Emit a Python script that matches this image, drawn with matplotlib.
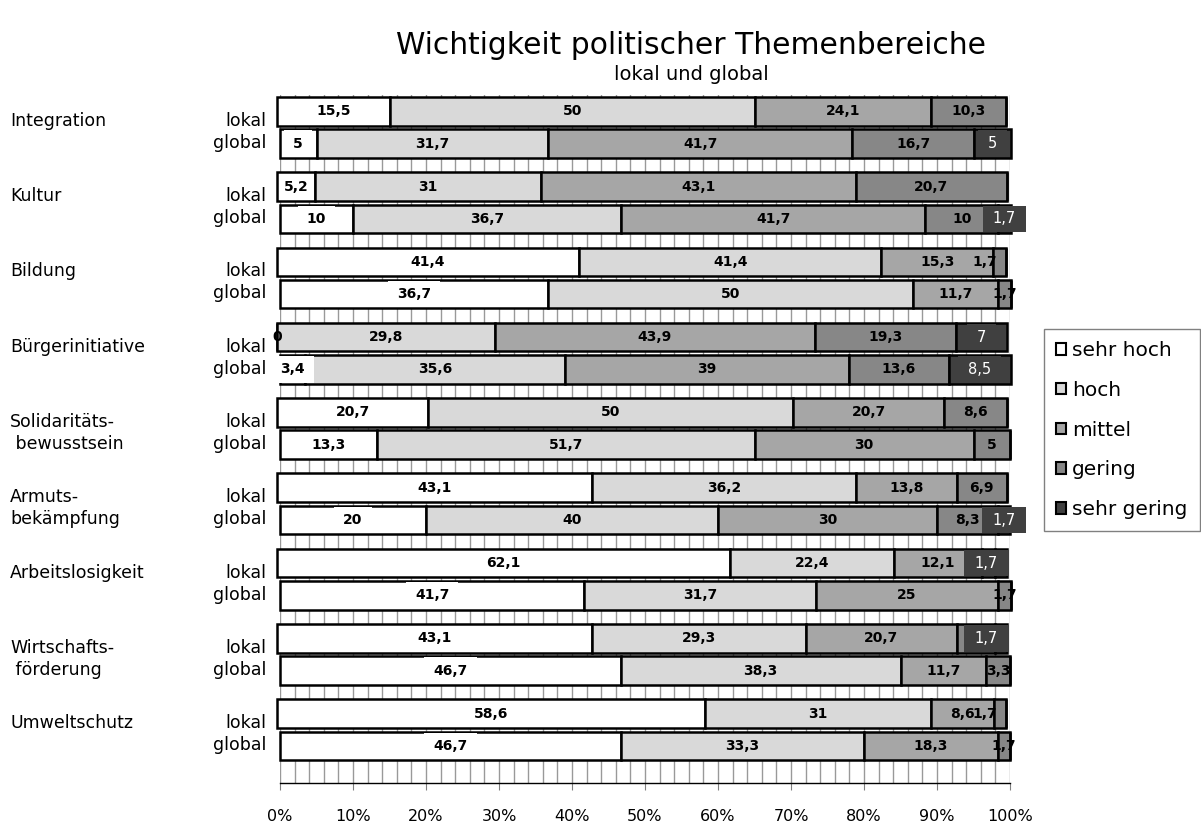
import numpy as np
import matplotlib
matplotlib.use("Agg")
import matplotlib.pyplot as plt
from matplotlib.patches import Patch
from matplotlib.path import Path
from matplotlib import transforms

plt.rcParams['font.family'] = ['DejaVu Sans']

# ---------------- data ----------------
categories = ["Integration", "Kultur", "Bildung", "Bürgerinitiative",
              "Solidaritäts-\n bewusstsein", "Armuts-\nbekämpfung",
              "Arbeitslosigkeit", "Wirtschafts-\n förderung", "Umweltschutz"]
levels = ["sehr hoch", "hoch", "mittel", "gering", "sehr gering"]
colors = ["#ffffff", "#d9d9d9", "#a6a6a6", "#878787", "#404040"]

sehr_hoch_lokal = [15.5, 5.2, 41.4, 0, 20.7, 43.1, 62.1, 43.1, 58.6]
hoch_lokal = [50, 31, 41.4, 29.8, 50, 36.2, 22.4, 29.3, 31]
mittel_lokal = [24.1, 43.1, 15.3, 43.9, 20.7, 13.8, 12.1, 20.7, 8.6]
gering_lokal = [10.3, 20.7, 1.7, 19.3, 8.6, 6.9, 1.7, 5.2, 1.7]
sehr_gering_lokal = [None, None, None, 7, None, None, 1.7, 1.7, None]

sehr_hoch_global = [5, 10, 36.7, 3.4, 13.3, 20, 41.7, 46.7, 46.7]
hoch_global = [31.7, 36.7, 50, 35.6, 51.7, 40, 31.7, 38.3, 33.3]
mittel_global = [41.7, 41.7, 11.7, 39, 30, 30, 25, 11.7, 18.3]
gering_global = [16.7, 10, 1.7, 13.6, 5, 8.3, 1.7, 3.3, 1.7]
sehr_gering_global = [5, 1.7, None, 8.5, None, 1.7, None, None, None]

xticks = list(range(0, 101, 10))

lokal = [sehr_hoch_lokal, hoch_lokal, mittel_lokal, gering_lokal, sehr_gering_lokal]
glob = [sehr_hoch_global, hoch_global, mittel_global, gering_global, sehr_gering_global]

# ---------------- figure ----------------
W, H = 1201, 827
fig = plt.figure(figsize=(W / 100, H / 100), dpi=100)
ax = fig.add_axes([280 / W, (H - 783) / H, 730 / W, (783 - 95) / H])

n = len(categories)
idx = np.arange(n)
off = 0.2145
bh = 0.381
y_lok = idx - off
y_glo = idx + off

# lokal series sit on a slightly shifted copy of the value axis
lok_tr = ax.transData + transforms.ScaledTranslation(-3 / 100, 0, fig.dpi_scale_trans)


def padded(padx, pady):
    def style(x0, y0, width, height, mutation_size):
        px = padx * mutation_size
        py = pady * mutation_size
        x1, y1 = x0 - px, y0 - py
        x2, y2 = x0 + width + px, y0 + height + py
        return Path([(x1, y1), (x2, y1), (x2, y2), (x1, y2), (x1, y1)], closed=True)
    return style


def fmt(v):
    return f"{v:g}".replace('.', ',')


def draw_group(series, ypos, tr, is_lokal):
    cum = np.zeros(n)
    for k, vals in enumerate(series):
        arr = np.array([np.nan if v is None else v for v in vals], dtype=float)
        w = np.nan_to_num(arr)
        ax.barh(ypos, w, left=cum, height=bh, color=colors[k], edgecolor='black',
                linewidth=1.8, transform=tr, zorder=2, clip_on=False)
        for i in range(n):
            v = arr[i]
            if np.isnan(v):
                continue
            x = cum[i] + v / 2
            ha = 'center'
            if is_lokal and v < 4 and cum[i] + v >= 99.5:
                x, ha = 98.7, 'right'
            kw = dict(ha=ha, va='center', fontsize=10, transform=tr)
            if k == 4:
                kw.update(color='white', zorder=6, fontsize=10.5,
                          bbox=dict(boxstyle=padded(0.7, 0.4), fc=colors[4], ec='none'))
            else:
                kw.update(color='black', fontweight='bold', zorder=5)
                if k == 0 and not is_lokal:
                    kw.update(bbox=dict(boxstyle=padded(0.65, 0.45), fc='white', ec='none'))
            ax.text(x, ypos[i], fmt(v), **kw)
        cum = cum + w


draw_group(lokal, y_lok, lok_tr, True)
draw_group(glob, y_glo, ax.transData, False)

ax.set_xlim(0, 100)
ax.set_ylim((783 - 127.4) / 75.3, (95 - 127.4) / 75.3)
ax.set_xticks(xticks)
ax.set_xticklabels([f"{t}%" for t in xticks], fontsize=11.5)
ax.set_xticks(np.arange(0, 101, 2), minor=True)
ax.tick_params(axis='x', which='major', length=5, color='#808080', pad=14)
ax.tick_params(axis='x', which='minor', length=0)
ax.set_yticks([])
ax.grid(axis='x', which='both', color='#999999', linewidth=1)
ax.set_axisbelow(True)
for s in ['top', 'left', 'right']:
    ax.spines[s].set_visible(False)
ax.spines['bottom'].set_color('black')
ax.spines['bottom'].set_linewidth(1)

# left labels
bt = transforms.blended_transform_factory(fig.transFigure, ax.transData)
for i, cat in enumerate(categories):
    lines = cat.split('\n')
    ax.text(10 / W, idx[i] - 0.02, lines[0], transform=bt, ha='left', va='baseline', fontsize=12.5)
    if len(lines) > 1:
        ax.text(10 / W, idx[i] + 0.27, lines[1], transform=bt, ha='left', va='baseline', fontsize=12.5)
    ax.text(266 / W, idx[i] - 0.02, "lokal", transform=bt, ha='right', va='baseline', fontsize=12.5)
    ax.text(266 / W, idx[i] + 0.27, "global", transform=bt, ha='right', va='baseline', fontsize=12.5)

# titles
fig.text(691 / W, 1 - 45 / H, "Wichtigkeit politischer Themenbereiche", ha='center', va='center', fontsize=21.4)
fig.text(691 / W, 1 - 75 / H, "lokal und global", ha='center', va='center', fontsize=14)

# legend
handles = [Patch(facecolor=c, edgecolor='black', linewidth=1.5) for c in colors]
leg = fig.legend(handles, levels, loc='upper left', bbox_to_anchor=(1044 / W, 1 - 329 / H),
                 bbox_transform=fig.transFigure, frameon=True, fancybox=False,
                 edgecolor='#808080', framealpha=1, borderaxespad=0, handlelength=0.5,
                 handleheight=0.5, handletextpad=0.3, labelspacing=1.03, fontsize=14.5,
                 borderpad=0.6)
leg.get_frame().set_linewidth(1)

fig.savefig("out.png", dpi=100)
